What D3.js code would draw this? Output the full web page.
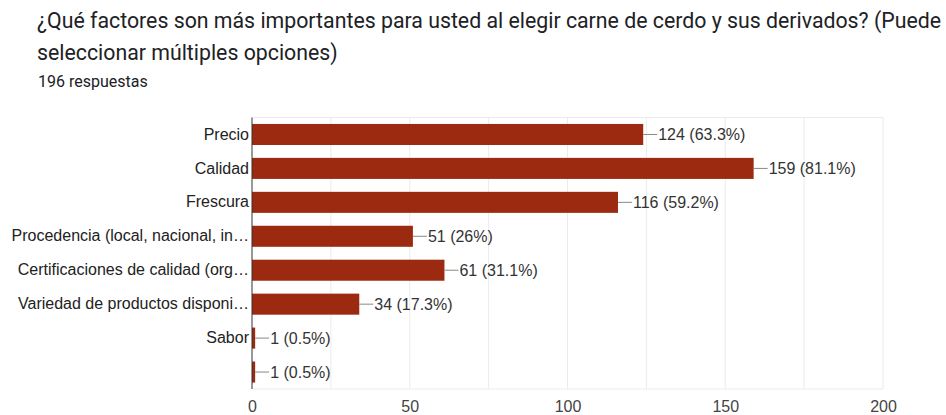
<!DOCTYPE html>
<html>
<head>
<meta charset="utf-8">
<script src="https://cdn.jsdelivr.net/npm/d3@7"></script>
<style>
  html, body { margin: 0; padding: 0; background: #fff; }
  svg { display: block; font-family: Roboto, Arial, sans-serif; }
</style>
</head>
<body>
<svg id="chart" width="946" height="415"></svg>
<script>
// Survey answers: option label and number of respondents
const categories = [
  "Precio",
  "Calidad",
  "Frescura",
  "Procedencia (local, nacional, in…",
  "Certificaciones de calidad (org…",
  "Variedad de productos disponi…",
  "Sabor",
  ""
];
const counts = [124, 159, 116, 51, 61, 34, 1, 1];
const percents = ["63.3%", "81.1%", "59.2%", "26%", "31.1%", "17.3%", "0.5%", "0.5%"];
const tickValues = [0, 50, 100, 150, 200];
const gridValues = [25, 50, 75, 100, 125, 150, 175, 200];
const totalResponses = 196;

const chartFont = "'Liberation Sans', Arial, sans-serif";
const svg = d3.select("#chart");

// Heading
const title = svg.append("g").attr("fill", "#202124").style("font-size", "21.3px");
title.append("text").attr("x", 37).attr("y", 28)
  .text("¿Qué factores son más importantes para usted al elegir carne de cerdo y sus derivados? (Puede");
title.append("text").attr("x", 37).attr("y", 60)
  .text("seleccionar múltiples opciones)");
svg.append("text").attr("x", 38).attr("y", 87)
  .attr("fill", "#202124").style("font-size", "16px")
  .text(totalResponses + " respuestas");

// Plot area
const plotLeft = 252, plotRight = 883, plotTop = 117.5, plotBottom = 389;
const rows = d3.range(categories.length);

const x = d3.scaleLinear().domain([0, 200]).range([plotLeft, plotRight]);
const y = d3.scaleBand().domain(rows).range([plotTop, plotBottom]).paddingInner(0.38).paddingOuter(0.19);

// Gridlines
svg.append("g").selectAll("line").data(gridValues).join("line")
  .attr("x1", d => x(d)).attr("x2", d => x(d))
  .attr("y1", plotTop).attr("y2", plotBottom)
  .attr("stroke", "#ebebeb").attr("stroke-width", 1);
svg.append("line").attr("x1", plotLeft).attr("x2", plotRight).attr("y1", plotTop).attr("y2", plotTop)
  .attr("stroke", "#ebebeb");
svg.append("line").attr("x1", plotLeft).attr("x2", plotRight).attr("y1", plotBottom).attr("y2", plotBottom)
  .attr("stroke", "#ebebeb");

// Bars
svg.append("g").selectAll("rect").data(rows).join("rect")
  .attr("x", x(0))
  .attr("y", i => y(i))
  .attr("width", i => x(counts[i]) - x(0))
  .attr("height", y.bandwidth())
  .attr("fill", "#9b2a11");

// Value labels with leader lines
const lab = svg.append("g");
rows.forEach(i => {
  const xe = x(counts[i]);
  const cy = y(i) + y.bandwidth() / 2;
  lab.append("line").attr("x1", xe).attr("x2", xe + 14).attr("y1", cy).attr("y2", cy)
    .attr("stroke", "#888").attr("stroke-width", 1);
  lab.append("text").attr("x", xe + 15).attr("y", cy).attr("dy", "0.36em")
    .attr("fill", "#333").style("font-size", "16px").style("font-family", chartFont)
    .text(counts[i] + " (" + percents[i] + ")");
});

// Category axis
const yAxis = d3.axisLeft(y).tickSize(0).tickPadding(3).tickFormat(i => categories[i]);
const gy = svg.append("g").attr("transform", `translate(${plotLeft},0)`).call(yAxis);
gy.select(".domain").remove();
gy.selectAll("text").attr("fill", "#222").style("font-size", "16px").style("font-family", chartFont);
svg.append("line").attr("x1", plotLeft).attr("x2", plotLeft).attr("y1", plotTop).attr("y2", plotBottom)
  .attr("stroke", "#333").attr("stroke-width", 1);

// Value axis
const xAxis = d3.axisBottom(x).tickValues(tickValues).tickSize(0).tickPadding(12);
const gx = svg.append("g").attr("transform", `translate(0,${plotBottom})`).call(xAxis);
gx.select(".domain").remove();
gx.selectAll("text").attr("fill", "#444").style("font-size", "16px").style("font-family", chartFont);
</script>
</body>
</html>
